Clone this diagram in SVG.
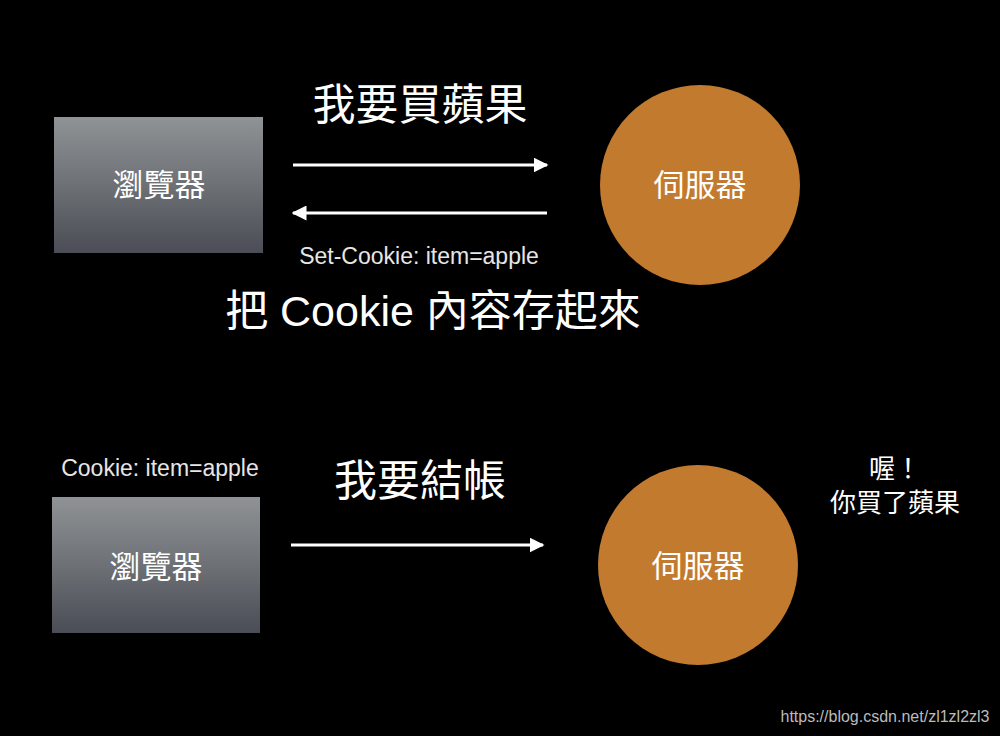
<svg xmlns="http://www.w3.org/2000/svg" width="1000" height="736" viewBox="0 0 1000 736">
<defs>
<linearGradient id="g" x1="0" y1="0" x2="0" y2="1">
<stop offset="0" stop-color="#909395"/>
<stop offset="1" stop-color="#4a4d55"/>
</linearGradient>
<marker id="ah" viewBox="0 0 10 10" refX="9" refY="5" markerWidth="5" markerHeight="5" orient="auto-start-reverse" markerUnits="strokeWidth">
<path d="M0,0 L10,5 L0,10 Z" fill="#fff"/>
</marker>
<style>
text{font-family:"Liberation Sans","Noto Sans CJK TC",sans-serif;fill:#fff;text-anchor:middle}
.box{fill:url(#g)}
.srv{fill:#c27a2e}
.lbl{font-size:31px}
.big{font-size:43px}
.sm{font-size:23px;fill:#e6e6e6}
.note{font-size:26px}
.arr{stroke:#fff;stroke-width:3;fill:none}
</style>
</defs>
<rect width="1000" height="736" fill="#000"/>
<g id="browser1"><rect class="box" x="54" y="117" width="209" height="136"/><text class="lbl" x="159" y="196">瀏覽器</text></g>
<g id="server1"><circle class="srv" cx="700" cy="185" r="100"/><text class="lbl" x="700" y="196">伺服器</text></g>
<g id="browser2"><rect class="box" x="52" y="497" width="208" height="136"/><text class="lbl" x="156" y="578">瀏覽器</text></g>
<g id="server2"><circle class="srv" cx="698" cy="565" r="100"/><text class="lbl" x="698" y="577">伺服器</text></g>
<g id="connectors">
<line class="arr" x1="293" y1="165" x2="547" y2="165" marker-end="url(#ah)"/>
<line class="arr" x1="547" y1="213" x2="293" y2="213" marker-end="url(#ah)"/>
<line class="arr" x1="291" y1="545" x2="543" y2="545" marker-end="url(#ah)"/>
</g>
<g id="labels">
<text class="big" x="420" y="120">我要買蘋果</text>
<text class="sm" x="419" y="264">Set-Cookie: item=apple</text>
<text class="big" x="433" y="326">把 Cookie 內容存起來</text>
<text class="sm" x="160" y="476">Cookie: item=apple</text>
<text class="big" x="420" y="496">我要結帳</text>
<text class="note" x="895" y="478">喔！</text>
<text class="note" x="895" y="512">你買了蘋果</text>
<text x="885" y="722" style="font-size:16px;fill:#bbb">https://blog.csdn.net/zl1zl2zl3</text>
</g>
</svg>
